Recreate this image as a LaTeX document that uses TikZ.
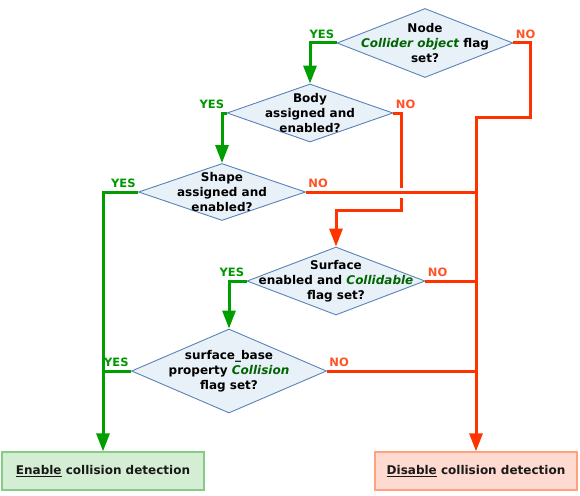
\documentclass[tikz,border=0pt]{standalone}
\usepackage{fontspec}
\setmainfont{DejaVu Sans}
\usetikzlibrary{shapes.geometric,arrows.meta,positioning}

\definecolor{yesgreen}{HTML}{009E00}
\definecolor{nored}{HTML}{FF3300}
\definecolor{darkgreen}{HTML}{006400}
\definecolor{decfill}{HTML}{E8F0F8}
\definecolor{decdraw}{HTML}{5B82B8}
\definecolor{enfill}{HTML}{D4EED4}
\definecolor{endraw}{HTML}{86CC86}
\definecolor{disfill}{HTML}{FFDAD0}
\definecolor{disdraw}{HTML}{FFA27E}

\newcommand{\flag}[1]{\textcolor{darkgreen}{\itshape #1}}

\begin{document}
\begin{tikzpicture}[
  x = 1pt, y = -1pt,
  every node/.style = {font = \fontsize{12}{15}\selectfont\bfseries},
  decision/.style = {diamond, draw = decdraw, fill = decfill, line width = 0.9pt,
                     inner sep = 0pt, minimum width = #1},
  outcome/.style = {rectangle, draw = #1draw, fill = #1fill, line width = 1.3pt,
                    minimum width = 202pt, minimum height = 38pt, text = black!90},
  qtext/.style = {align = center, inner sep = 0pt},
  yesline/.style = {draw = yesgreen, line width = 3pt},
  noline/.style = {draw = nored, line width = 3pt},
  tip/.style = {-{Triangle[width = 13pt, length = 18pt]}},
  yeslbl/.style = {anchor = base east, inner sep = 0pt, yshift = 5pt, xshift = -1pt,
                   text = yesgreen!95!black, font = \fontsize{11.5}{15}\selectfont\bfseries},
  nolbl/.style = {anchor = base west, inner sep = 0pt, yshift = 5pt, xshift = 1pt,
                  text = nored!85!white, font = \fontsize{11.5}{15}\selectfont\bfseries}
  ]
  \useasboundingbox (0,0) rectangle (580,495);

  % decisions
  \node[decision = 176pt, minimum height = 69pt,
        label = {[qtext]center:Node\\\flag{Collider object} flag\\set?}]
        (collider) at (425,43) {};
  \node[decision = 166pt, minimum height = 58pt,
        label = {[qtext]center:Body\\assigned and\\enabled?}]
        (body) at (310,113) {};
  \node[decision = 167pt, minimum height = 57pt,
        label = {[qtext]center:Shape\\assigned and\\enabled?}]
        (shape) at (222,192) {};
  \node[decision = 178pt, minimum height = 68pt,
        label = {[qtext]center:Surface\\enabled and \flag{Collidable}\\flag set?}]
        (surface) at (336,281) {};
  \node[decision = 195pt, minimum height = 84pt,
        label = {[qtext]center:surface\_base\\property \flag{Collision}\\flag set?}]
        (base) at (229,371) {};

  % outcomes
  \node[outcome = en] (enable) at (103,471) {\underline{Enable} collision detection};
  \node[outcome = dis] (disable) at (476,471) {\underline{Disable} collision detection};

  % YES branches
  \draw[yesline, tip] (collider.west) node[yeslbl] {YES} -| (body.north);
  \draw[yesline, tip] (body.west) node[yeslbl] {YES} -| (shape.north);
  \draw[yesline, tip] (shape.west) node[yeslbl] {YES} -| (enable.north);
  \draw[yesline, tip] (surface.west) node[yeslbl] {YES} -| (base.north);
  \draw[yesline] (base.west) node[yeslbl] {YES} -- (base.west -| enable.north);

  % NO branches
  \draw[noline, tip] (collider.east) node[nolbl] {NO} -| (530,117) -| (disable.north);
  \draw[noline, tip] (body.east) node[nolbl] {NO} -| (401,210) -| (surface.north);
  \fill[white] (398,188) rectangle (404,198);
  \draw[noline] (shape.east) node[nolbl] {NO} -- (shape.east -| disable.north);
  \draw[noline] (surface.east) node[nolbl] {NO} -- (surface.east -| disable.north);
  \draw[noline] (base.east) node[nolbl] {NO} -- (base.east -| disable.north);
\end{tikzpicture}
\end{document}
